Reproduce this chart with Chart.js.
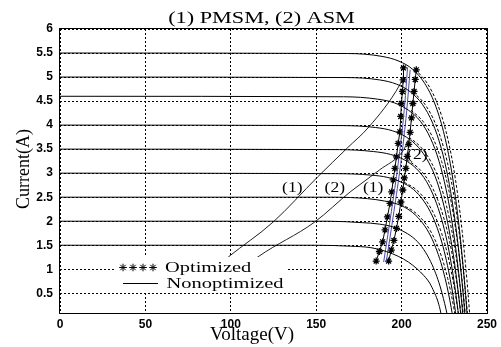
<!DOCTYPE html>
<html><head><meta charset="utf-8">
<script src="https://cdn.jsdelivr.net/npm/chart.js@4/dist/chart.umd.min.js"></script>
<style>html,body{margin:0;padding:0;background:#fff;}canvas{display:block;}</style>
</head><body>
<canvas id="c" width="501" height="347" style="width:501px;height:347px"></canvas>
<script>
// ---- text ----
const titleText = '(1) PMSM, (2) ASM';
const xLabel = 'Voltage(V)';
const yLabel = 'Current(A)';
const legendTexts = ['Optimized', 'Nonoptimized'];

// ---- axes ----
const xTicks = [0, 50, 100, 150, 200, 250];
const yTicks = [0.5, 1, 1.5, 2, 2.5, 3, 3.5, 4, 4.5, 5, 5.5, 6];
const xRange = [0, 250];
const yRange = [0.09, 6];

// ---- I-V curves (voltage V, current A), solid ----
const curve1V = [0, 168.5, 188.5, 198.5, 206.5, 213.5, 219.5, 224.5, 228.5, 231.5, 234, 236, 237.5, 238.5];
const curve1I = [5.5, 5.49, 5.43, 5.33, 5.16, 4.87, 4.44, 3.87, 3.2, 2.51, 1.78, 1.07, 0.46, 0];
const curve2V = [0, 167.2, 187.2, 197.2, 205.2, 212.2, 218.2, 223.2, 227.2, 230.2, 232.7, 234.7, 236.2, 237.2];
const curve2I = [5.0, 4.99, 4.94, 4.85, 4.69, 4.43, 4.04, 3.52, 2.91, 2.28, 1.62, 0.98, 0.42, 0];
const curve3V = [0, 166, 186, 196, 204, 211, 217, 222, 226, 229, 231.5, 233.5, 235, 236];
const curve3I = [4.6, 4.59, 4.54, 4.46, 4.31, 4.08, 3.72, 3.24, 2.67, 2.1, 1.49, 0.9, 0.38, 0];
const curve4V = [0, 164.8, 184.8, 194.8, 202.8, 209.8, 215.8, 220.8, 224.8, 227.8, 230.3, 232.3, 233.8, 234.8];
const curve4I = [4.0, 3.99, 3.95, 3.88, 3.75, 3.54, 3.23, 2.82, 2.32, 1.82, 1.3, 0.78, 0.33, 0];
const curve5V = [0, 163.5, 183.5, 193.5, 201.5, 208.5, 214.5, 219.5, 223.5, 226.5, 229, 231, 232.5, 233.5];
const curve5I = [3.5, 3.49, 3.45, 3.39, 3.28, 3.1, 2.83, 2.46, 2.03, 1.6, 1.13, 0.68, 0.29, 0];
const curve6V = [0, 162, 182, 192, 200, 207, 213, 218, 222, 225, 227.5, 229.5, 231, 232];
const curve6I = [3.0, 2.99, 2.96, 2.91, 2.81, 2.66, 2.42, 2.11, 1.74, 1.37, 0.97, 0.59, 0.25, 0];
const curve7V = [0, 160, 180, 190, 198, 205, 211, 216, 220, 223, 225.5, 227.5, 229, 230];
const curve7I = [2.5, 2.5, 2.47, 2.42, 2.35, 2.22, 2.02, 1.76, 1.45, 1.14, 0.81, 0.49, 0.21, 0];
const curve8V = [0, 157, 177, 187, 195, 202, 208, 213, 217, 220, 222.5, 224.5, 226, 227];
const curve8I = [2.0, 2.0, 1.97, 1.94, 1.88, 1.77, 1.62, 1.41, 1.16, 0.91, 0.65, 0.39, 0.17, 0];
const curve9V = [0, 150, 170, 182, 191, 198, 204, 209, 213, 216.5, 219, 221, 222.5, 223.5];
const curve9I = [1.5, 1.5, 1.48, 1.45, 1.37, 1.27, 1.15, 1.01, 0.87, 0.71, 0.53, 0.36, 0.17, 0];

// ---- I-V curves, dashed (right-hand branches) ----
const dash1V = [208, 215, 221, 226, 230, 233, 235.5, 237.5, 239, 240];
const dash1I = [5.16, 4.87, 4.44, 3.87, 3.2, 2.51, 1.78, 1.07, 0.46, 0];
const dash2V = [206.7, 213.7, 219.7, 224.7, 228.7, 231.7, 234.2, 236.2, 237.7, 238.7];
const dash2I = [4.69, 4.43, 4.04, 3.52, 2.91, 2.28, 1.62, 0.98, 0.42, 0];
const dash3V = [205.5, 212.5, 218.5, 223.5, 227.5, 230.5, 233, 235, 236.5, 237.5];
const dash3I = [4.31, 4.08, 3.72, 3.24, 2.67, 2.1, 1.49, 0.9, 0.38, 0];
const dash4V = [204.3, 211.3, 217.3, 222.3, 226.3, 229.3, 231.8, 233.8, 235.3, 236.3];
const dash4I = [3.75, 3.54, 3.23, 2.82, 2.32, 1.82, 1.3, 0.78, 0.33, 0];
const dash5V = [203, 210, 216, 221, 225, 228, 230.5, 232.5, 234, 235];
const dash5I = [3.28, 3.1, 2.83, 2.46, 2.03, 1.6, 1.13, 0.68, 0.29, 0];
const dash6V = [201.5, 208.5, 214.5, 219.5, 223.5, 226.5, 229, 231, 232.5, 233.5];
const dash6I = [2.81, 2.66, 2.42, 2.11, 1.74, 1.37, 0.97, 0.59, 0.25, 0];
const dash7V = [199.5, 206.5, 212.5, 217.5, 221.5, 224.5, 227, 229, 230.5, 231.5];
const dash7I = [2.35, 2.22, 2.02, 1.76, 1.45, 1.14, 0.81, 0.49, 0.21, 0];

// ---- load lines (nonoptimized) ----
const load1V = [90, 98.7, 124.7, 150.8, 168.1, 180.8, 198.8, 201];
const load1I = [1.0, 1.26, 1.98, 2.92, 3.52, 3.96, 4.83, 5.0];
const load2V = [105, 116, 149, 169.9, 187.2, 201.1, 204];
const load2I = [0.95, 1.26, 1.98, 2.61, 3.07, 3.48, 3.7];

// ---- optimized operating points (star tracks) ----
const track1V = [185.1, 187.0, 188.9, 190.3, 191.7, 193.2, 194.2, 195.1, 196.1, 197.0, 198.0, 199.0, 199.5, 199.9, 200.5, 200.9, 201.1];
const track1I = [1.17, 1.37, 1.57, 1.82, 2.09, 2.37, 2.61, 2.86, 3.10, 3.34, 3.62, 3.86, 4.18, 4.45, 4.70, 4.94, 5.19];
const track2V = [192.4, 194.0, 195.5, 197.0, 198.3, 199.6, 200.7, 201.6, 202.5, 203.3, 204.2, 205.0, 205.8, 206.6, 207.3, 208.0, 208.6];
const track2I = [1.17, 1.40, 1.60, 1.85, 2.10, 2.40, 2.65, 2.90, 3.10, 3.35, 3.60, 3.85, 4.15, 4.45, 4.70, 4.95, 5.15];

// ---- maximum power point lines (blue) ----
const mppAV = [189.5, 194, 198, 201.5, 203.5];
const mppAI = [1.15, 2.2, 3.2, 4.3, 5.2];
const mppBV = [191, 195.5, 199.5, 203, 205];
const mppBI = [1.15, 2.2, 3.2, 4.3, 5.15];

// ---- curve labels ----
const labelText = ['(1)', '(2)', '(1)', '(2)'];
const labelV = [136, 160.9, 183.4, 209.2];
const labelI = [2.61, 2.61, 2.61, 3.29];

const toPts = (vs, is) => vs.map((v, k) => ({x: v, y: is[k]}));
const ivCurves = [
  [curve1V, curve1I], [curve2V, curve2I], [curve3V, curve3I], [curve4V, curve4I], [curve5V, curve5I],
  [curve6V, curve6I], [curve7V, curve7I], [curve8V, curve8I], [curve9V, curve9I]
];
const ivDashed = [
  [dash1V, dash1I], [dash2V, dash2I], [dash3V, dash3I], [dash4V, dash4I],
  [dash5V, dash5I], [dash6V, dash6I], [dash7V, dash7I]
];

const datasets = [];
ivDashed.forEach(([v, i]) => datasets.push({
  data: toPts(v, i), showLine: true, borderColor: '#000', borderWidth: 1, borderDash: [3, 2],
  pointRadius: 0, cubicInterpolationMode: 'monotone'
}));
ivCurves.forEach(([v, i]) => datasets.push({
  data: toPts(v, i), showLine: true, borderColor: '#000', borderWidth: 1,
  pointRadius: 0, cubicInterpolationMode: 'monotone'
}));
[[load1V, load1I], [load2V, load2I]].forEach(([v, i]) => datasets.push({
  data: toPts(v, i), showLine: true, borderColor: '#222', borderWidth: 1,
  pointRadius: 0, cubicInterpolationMode: 'monotone'
}));
[[mppAV, mppAI], [mppBV, mppBI]].forEach(([v, i]) => datasets.push({
  data: toPts(v, i), showLine: true, borderColor: '#4a4a9c', borderWidth: 1,
  pointRadius: 0, cubicInterpolationMode: 'monotone'
}));
[[track1V, track1I], [track2V, track2I]].forEach(([v, i]) => datasets.push({
  data: toPts(v, i), showLine: true, borderColor: '#000', borderWidth: 1,
  pointStyle: 'star', pointRadius: 3.5, pointBorderWidth: 1.3,
  pointBorderColor: '#000', pointBackgroundColor: '#000'
}));

const SERIF = '"Liberation Serif", "Times New Roman", serif';
function stretchText(ctx, txt, x, y, size, sx, align, rot) {
  ctx.save();
  ctx.translate(x, y);
  if (rot) ctx.rotate(rot);
  ctx.scale(sx, 1);
  ctx.font = size + 'px ' + SERIF;
  ctx.fillStyle = '#000';
  ctx.textAlign = align;
  ctx.textBaseline = 'alphabetic';
  ctx.fillText(txt, 0, 0);
  ctx.restore();
}

const overlay = {
  id: 'overlay',
  afterDatasetsDraw(chart) {
    const {ctx, chartArea: a, scales: {x, y}} = chart;
    // legend box (white, no border)
    ctx.save();
    ctx.fillStyle = '#fff';
    ctx.fillRect(a.left + 55, a.bottom - 56, 172, 34);
    // legend samples
    for (let k = 0; k < 4; k++) {
      Chart.helpers.drawPoint(ctx, {pointStyle: 'star', radius: 3.8, borderWidth: 1.3, rotation: 0},
        a.left + 63 + k * 10, a.bottom - 45.5);
    }
    ctx.strokeStyle = '#000';
    ctx.lineWidth = 1;
    ctx.beginPath();
    ctx.moveTo(a.left + 63, a.bottom - 29.5);
    ctx.lineTo(a.left + 98, a.bottom - 29.5);
    ctx.stroke();
    ctx.restore();
    stretchText(ctx, legendTexts[0], a.left + 105, a.bottom - 41.5, 14, 1.46, 'left');
    stretchText(ctx, legendTexts[1], a.left + 106.5, a.bottom - 25, 14, 1.46, 'left');
    // curve labels
    labelText.forEach((t, k) => {
      stretchText(ctx, t, x.getPixelForValue(labelV[k]), y.getPixelForValue(labelI[k]), 14, 1.25, 'center');
    });
  },
  afterDraw(chart) {
    const {ctx, chartArea: a} = chart;
    ctx.save();
    ctx.strokeStyle = '#000';
    ctx.lineWidth = 1;
    ctx.strokeRect(a.left - 0.5, a.top - 0.5, a.right - a.left + 1, a.bottom - a.top + 1);
    ctx.restore();
    stretchText(ctx, titleText, 261.5, 23, 16, 1.39, 'center');
    stretchText(ctx, xLabel, 252, 340, 19, 1.0, 'center');
    stretchText(ctx, yLabel, 29, 169, 18, 1.0, 'center', -Math.PI / 2);
  }
};

const gridOpts = {color: '#000', lineWidth: 1, drawTicks: false};
const tickFont = {family: '"Liberation Sans", Arial, sans-serif', size: 12, weight: 'bold'};

new Chart(document.getElementById('c'), {
  type: 'scatter',
  data: {datasets},
  options: {
    responsive: false,
    animation: false,
    devicePixelRatio: 1,
    layout: {padding: {top: 29, right: 10, left: 0, bottom: 0}},
    plugins: {legend: {display: false}, tooltip: {enabled: false}, title: {display: false}},
    scales: {
      x: {
        type: 'linear', min: xRange[0], max: xRange[1],
        afterBuildTicks: s => { s.ticks = xTicks.map(v => ({value: v})); },
        afterFit: s => { s.height = 34; },
        grid: gridOpts,
        border: {display: false, dash: [2, 2]},
        ticks: {color: '#000', font: tickFont, padding: 4, maxRotation: 0, callback: v => String(v)}
      },
      y: {
        type: 'linear', min: yRange[0], max: yRange[1],
        afterBuildTicks: s => { s.ticks = yTicks.map(v => ({value: v})); },
        afterFit: s => { s.width = 60; },
        grid: gridOpts,
        border: {display: false, dash: [2, 2]},
        ticks: {color: '#000', font: tickFont, padding: 7, callback: v => String(v)}
      }
    }
  },
  plugins: [overlay]
});
</script>
</body></html>
